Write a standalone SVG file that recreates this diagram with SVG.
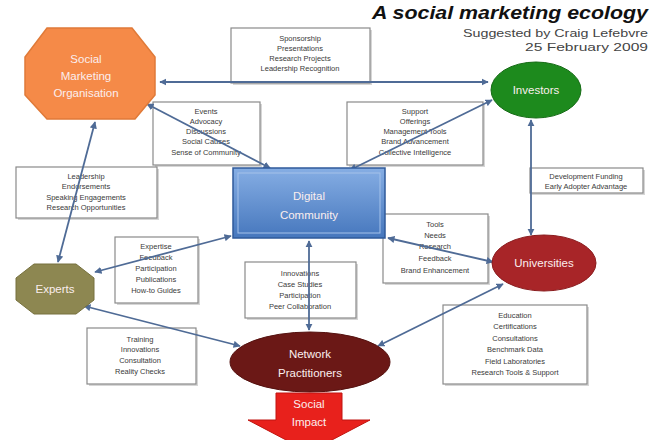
<svg xmlns="http://www.w3.org/2000/svg" width="660" height="440" viewBox="0 0 660 440">
<style>
.box{fill:#fff;stroke:#8a8a8a;stroke-width:1.2}
.sh{fill:#d6d6d6}
.bt{font-family:"Liberation Sans",Arial,sans-serif;font-size:7.5px;fill:#3a3a3a;text-anchor:middle}
.nt{font-family:"Liberation Sans",Arial,sans-serif;font-size:11.5px;fill:#fbeeee;text-anchor:middle}
.con{stroke:#4f6b96;stroke-width:1.8;fill:none;marker-start:url(#ah);marker-end:url(#ah)}
</style>
<defs>
<marker id="ah" viewBox="0 0 10 10" refX="9" refY="5" markerWidth="4" markerHeight="4" orient="auto-start-reverse" markerUnits="strokeWidth">
<path d="M0,0 L10,5 L0,10 z" fill="#4f6b96"/>
</marker>
<linearGradient id="dcg" x1="0" y1="0" x2="0" y2="1">
<stop offset="0" stop-color="#86aee4"/>
<stop offset="1" stop-color="#4677bd"/>
</linearGradient>
</defs>
<rect width="660" height="440" fill="#fff"/>

<g id="title">
<text x="648" y="19" font-family="Liberation Sans,Arial,sans-serif" font-size="18" font-weight="bold" font-style="italic" text-anchor="end" fill="#111" textLength="276" lengthAdjust="spacingAndGlyphs">A social marketing ecology</text>
<text x="648" y="37" font-family="Liberation Sans,Arial,sans-serif" font-size="11.5" text-anchor="end" fill="#444" textLength="185" lengthAdjust="spacingAndGlyphs">Suggested by Craig Lefebvre</text>
<text x="648" y="51" font-family="Liberation Sans,Arial,sans-serif" font-size="11.5" text-anchor="end" fill="#444" textLength="123" lengthAdjust="spacingAndGlyphs">25 February 2009</text>
</g>

<g id="box-sponsorship">
<rect class="sh" x="233" y="30" width="139" height="55"/>
<rect class="box" x="231" y="28" width="139" height="55"/>
<text class="bt" x="300" y="41">Sponsorship</text>
<text class="bt" x="300" y="51">Presentations</text>
<text class="bt" x="300" y="61">Research Projects</text>
<text class="bt" x="300" y="71">Leadership Recognition</text>
</g>
<g id="box-events">
<rect class="sh" x="155" y="104" width="107" height="63"/>
<rect class="box" x="153" y="102" width="107" height="63"/>
<text class="bt" x="206" y="114">Events</text>
<text class="bt" x="206" y="124">Advocacy</text>
<text class="bt" x="206" y="134">Discussions</text>
<text class="bt" x="206" y="144">Social Causes</text>
<text class="bt" x="206" y="155">Sense of Community</text>
</g>
<g id="box-support">
<rect class="sh" x="349" y="104" width="136" height="63"/>
<rect class="box" x="347" y="102" width="136" height="63"/>
<text class="bt" x="415" y="114">Support</text>
<text class="bt" x="415" y="124">Offerings</text>
<text class="bt" x="415" y="134">Management Tools</text>
<text class="bt" x="415" y="144">Brand Advancement</text>
<text class="bt" x="415" y="155">Collective Intelligence</text>
</g>
<g id="box-leadership">
<rect class="sh" x="18" y="169" width="141" height="51"/>
<rect class="box" x="16" y="167" width="141" height="51"/>
<text class="bt" x="86" y="179">Leadership</text>
<text class="bt" x="86" y="189">Endorsements</text>
<text class="bt" x="86" y="200">Speaking Engagements</text>
<text class="bt" x="86" y="210">Research Opportunities</text>
</g>
<g id="box-funding">
<rect class="sh" x="532" y="170" width="113" height="25"/>
<rect class="box" x="530" y="168" width="113" height="25"/>
<text class="bt" x="586" y="179">Development Funding</text>
<text class="bt" x="586" y="189">Early Adopter Advantage</text>
</g>
<g id="box-expertise">
<rect class="sh" x="117" y="239" width="83" height="66"/>
<rect class="box" x="115" y="237" width="83" height="66"/>
<text class="bt" x="156" y="249">Expertise</text>
<text class="bt" x="156" y="260">Feedback</text>
<text class="bt" x="156" y="271">Participation</text>
<text class="bt" x="156" y="282">Publications</text>
<text class="bt" x="156" y="293">How-to Guides</text>
</g>
<g id="box-tools">
<rect class="sh" x="385" y="216" width="105" height="69"/>
<rect class="box" x="383" y="214" width="105" height="69"/>
<text class="bt" x="435" y="227">Tools</text>
<text class="bt" x="435" y="238">Needs</text>
<text class="bt" x="435" y="249">Research</text>
<text class="bt" x="435" y="261">Feedback</text>
<text class="bt" x="435" y="273">Brand Enhancement</text>
</g>
<g id="box-innovations">
<rect class="sh" x="247" y="264" width="111" height="56"/>
<rect class="box" x="245" y="262" width="111" height="56"/>
<text class="bt" x="300" y="276">Innovations</text>
<text class="bt" x="300" y="287">Case Studies</text>
<text class="bt" x="300" y="298">Participation</text>
<text class="bt" x="300" y="309">Peer Collaboration</text>
</g>
<g id="box-training">
<rect class="sh" x="89" y="330" width="109" height="56"/>
<rect class="box" x="87" y="328" width="109" height="56"/>
<text class="bt" x="140" y="342">Training</text>
<text class="bt" x="140" y="352">Innovations</text>
<text class="bt" x="140" y="363">Consultation</text>
<text class="bt" x="140" y="374">Reality Checks</text>
</g>
<g id="box-education">
<rect class="sh" x="445" y="307" width="144" height="79"/>
<rect class="box" x="443" y="305" width="144" height="79"/>
<text class="bt" x="515" y="318">Education</text>
<text class="bt" x="515" y="329">Certifications</text>
<text class="bt" x="515" y="341">Consultations</text>
<text class="bt" x="515" y="352">Benchmark Data</text>
<text class="bt" x="515" y="364">Field Laboratories</text>
<text class="bt" x="515" y="375">Research Tools &amp; Support</text>
</g>

<g id="connectors">
<line class="con" x1="160" y1="82" x2="488" y2="82"/>
<line class="con" x1="147" y1="104" x2="270" y2="168"/>
<line class="con" x1="492" y1="100" x2="350" y2="170"/>
<line class="con" x1="95" y1="122" x2="58" y2="262"/>
<line class="con" x1="531" y1="120" x2="531" y2="235"/>
<line class="con" x1="95" y1="272" x2="231" y2="236"/>
<line class="con" x1="388" y1="238" x2="493" y2="262"/>
<line class="con" x1="309" y1="241" x2="309" y2="330"/>
<line class="con" x1="84" y1="306" x2="240" y2="346"/>
<line class="con" x1="503" y1="284" x2="378" y2="346"/>
</g>

<g id="node-smo">
<polygon points="47,28 132,28 155,57 155,95 135,119 47,119 25,95 25,57" fill="#f58a48" stroke="#e07a38" stroke-width="1.5"/>
<text class="nt" x="86" y="63">Social</text>
<text class="nt" x="86" y="80">Marketing</text>
<text class="nt" x="86" y="97">Organisation</text>
</g>
<g id="node-investors">
<ellipse cx="536" cy="90" rx="45" ry="28" fill="#1d8a1d" stroke="#156b15"/>
<text class="nt" x="536" y="94">Investors</text>
</g>
<g id="node-dc">
<rect x="233" y="168" width="152" height="70" fill="url(#dcg)" stroke="#2f5a9a" stroke-width="1.5"/>
<rect x="238" y="173" width="142" height="60" fill="none" stroke="#a5c2ea" stroke-width="1"/>
<text class="nt" x="309" y="200" font-size="12">Digital</text>
<text class="nt" x="309" y="219" font-size="12">Community</text>
</g>
<g id="node-experts">
<polygon points="34,264 76,264 94,278 94,300 76,314 34,314 16,300 16,278" fill="#8d8751" stroke="#76713f"/>
<text class="nt" x="55" y="293">Experts</text>
</g>
<g id="node-universities">
<ellipse cx="544" cy="263" rx="52" ry="28" fill="#a82528" stroke="#8a1c1e"/>
<text class="nt" x="544" y="267">Universities</text>
</g>
<g id="node-np">
<ellipse cx="310" cy="362" rx="80" ry="30" fill="#6b1816" stroke="#551210"/>
<text class="nt" x="310" y="358">Network</text>
<text class="nt" x="310" y="377">Practitioners</text>
</g>
<g id="node-impact">
<polygon points="276,393 342,393 342,420 370,420 309,452 248,420 276,420" fill="#e8211c" stroke="#c01510"/>
<text class="nt" x="309" y="408">Social</text>
<text class="nt" x="309" y="426">Impact</text>
</g>
</svg>
